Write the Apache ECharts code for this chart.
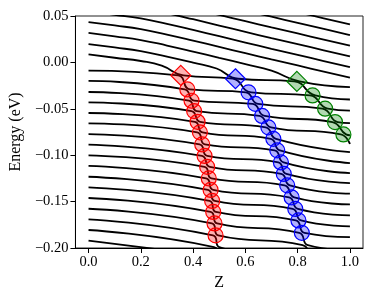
<!DOCTYPE html>
<html><head><meta charset="utf-8">
<script src="https://cdn.jsdelivr.net/npm/echarts@6/dist/echarts.min.js"></script>
<style>html,body{margin:0;padding:0;background:#fff}#c{width:374px;height:299px}</style>
</head><body><div id="c"></div><script>
// Tick labels
const xTicks = [0.0, 0.2, 0.4, 0.6, 0.8, 1.0];
const yTicks = [-0.20, -0.15, -0.10, -0.05, 0.00, 0.05];

// Marked avoided crossings (first point of each is the diamond)
const redZ = [0.353, 0.378, 0.394, 0.404, 0.417, 0.426, 0.435, 0.444, 0.454, 0.460, 0.467, 0.473, 0.477, 0.482, 0.486];
const redE = [-0.014, -0.0291, -0.0413, -0.0525, -0.064, -0.0754, -0.0884, -0.1008, -0.1126, -0.125, -0.1374, -0.1493, -0.1611, -0.1735, -0.1864];
const blueZ = [0.562, 0.612, 0.638, 0.664, 0.688, 0.707, 0.722, 0.736, 0.747, 0.760, 0.777, 0.791, 0.803, 0.816];
const blueE = [-0.0176, -0.0323, -0.0447, -0.0577, -0.0700, -0.0824, -0.0948, -0.1078, -0.1202, -0.1325, -0.1455, -0.1579, -0.1703, -0.1837];
const greenZ = [0.797, 0.857, 0.905, 0.943, 0.975];
const greenE = [-0.0205, -0.0356, -0.0499, -0.0643, -0.0776];

// Energy levels, [Z, E] points
const lvU5 = [[0,0.101],[0.2,0.0934],[0.4,0.081],[0.5,0.0742],[0.6,0.0674],[0.7,0.0607],[0.8,0.0542],[0.9,0.0475],[1,0.041]];
const lvU4 = [[0,0.0895],[0.2,0.0819],[0.4,0.0695],[0.5,0.0627],[0.6,0.0559],[0.7,0.0492],[0.8,0.0427],[0.9,0.036],[1,0.0295]];
const lvU3 = [[0,0.078],[0.1,0.0743],[0.2,0.0704],[0.3,0.0645],[0.4,0.058],[0.5,0.0512],[0.6,0.0444],[0.7,0.0377],[0.8,0.0312],[0.9,0.0245],[1,0.018]];
const lvU2 = [[0,0.0665],[0.1,0.0628],[0.2,0.0589],[0.3,0.053],[0.4,0.0465],[0.5,0.0397],[0.6,0.0329],[0.7,0.0262],[0.8,0.0197],[0.9,0.013],[1,0.0065]];
const lvU1 = [[0,0.055],[0.1,0.0513],[0.2,0.0474],[0.3,0.0415],[0.4,0.035],[0.5,0.0282],[0.6,0.0214],[0.7,0.0147],[0.8,0.0082],[0.9,0.0015],[1,-0.005]];
const lvL1 = [[0,0.0435],[0.1,0.0398],[0.2,0.0359],[0.3,0.03],[0.4,0.0235],[0.5,0.0167],[0.6,0.0099],[0.7,0.0032],[0.8,-0.0033],[0.9,-0.01],[1,-0.0165]];
const lvL2 = [[0,0.0317],[0.1,0.028],[0.2,0.0241],[0.3,0.0182],[0.4,0.0117],[0.5,0.0049],[0.6,-0.0019],[0.7,-0.0088],[0.807,-0.0205],[1,-0.0266]];
const lvL3 = [[0,0.0198],[0.1,0.0161],[0.2,0.0122],[0.3,0.0063],[0.4,-0.0002],[0.49,-0.0066],[0.572,-0.0176],[0.787,-0.0205],[0.867,-0.0356],[1,-0.040]];
const lvL4 = [[0,0.0087],[0.1,0.005],[0.2,0.0015],[0.28,-0.0035],[0.363,-0.014],[0.552,-0.0176],[0.622,-0.0323],[0.847,-0.0356],[0.915,-0.0499],[1,-0.052]];
const lv00 = [[0,-0.0089],[0.343,-0.014],[0.388,-0.0291],[0.602,-0.0323],[0.648,-0.0447],[0.895,-0.0499],[0.953,-0.0643],[1,-0.0655]];
const lv01 = [[0,-0.020],[0.368,-0.0291],[0.404,-0.0413],[0.628,-0.0447],[0.674,-0.0577],[0.933,-0.0643],[0.985,-0.0776],[1,-0.0785]];
const lv02 = [[0,-0.0319],[0.384,-0.0413],[0.414,-0.0525],[0.654,-0.0577],[0.698,-0.0700],[0.965,-0.0776],[1.0,-0.088]];
const lv03 = [[0,-0.043],[0.394,-0.0525],[0.427,-0.064],[0.678,-0.070],[0.717,-0.0824],[1,-0.0967]];
const lv04 = [[0,-0.0545],[0.407,-0.064],[0.436,-0.0754],[0.697,-0.0824],[0.732,-0.0948],[1,-0.1085]];
const lv05 = [[0,-0.0656],[0.416,-0.0754],[0.445,-0.0884],[0.712,-0.0948],[0.746,-0.1078],[1,-0.1193]];
const lv06 = [[0,-0.0772],[0.425,-0.0884],[0.454,-0.1008],[0.726,-0.1078],[0.757,-0.1202],[1,-0.130]];
const lv07 = [[0,-0.0887],[0.434,-0.1008],[0.464,-0.1126],[0.737,-0.1202],[0.770,-0.1325],[1,-0.1415]];
const lv08 = [[0,-0.1001],[0.444,-0.1126],[0.470,-0.125],[0.750,-0.1325],[0.787,-0.1455],[1,-0.153]];
const lv09 = [[0,-0.1116],[0.450,-0.125],[0.477,-0.1374],[0.767,-0.1455],[0.801,-0.1579],[1,-0.1649]];
const lv10 = [[0,-0.1232],[0.457,-0.1374],[0.483,-0.1493],[0.781,-0.1579],[0.813,-0.1703],[1,-0.1767]];
const lv11 = [[0,-0.1346],[0.463,-0.1493],[0.487,-0.1611],[0.793,-0.1703],[0.826,-0.1837],[1,-0.1883]];
const lv12 = [[0,-0.1461],[0.467,-0.1611],[0.492,-0.1735],[0.806,-0.1837],[0.839,-0.197],[1,-0.2025]];
const lv13 = [[0,-0.1577],[0.472,-0.1735],[0.496,-0.1864],[0.819,-0.197],[0.85,-0.21]];
const lv14 = [[0,-0.1691],[0.476,-0.1864],[0.50,-0.199],[0.6,-0.203]];
const lv15 = [[0,-0.1806],[0.48,-0.199],[0.505,-0.212]];
const lv16 = [[0,-0.1921],[0.3,-0.2026]];

const levels = [lvU5, lvU4, lvU3, lvU2, lvU1, lvL1, lvL2, lvL3, lvL4, lv00, lv01, lv02, lv03, lv04, lv05,
  lv06, lv07, lv08, lv09, lv10, lv11, lv12, lv13, lv14, lv15, lv16];

const FONT = '"Liberation Serif", "DejaVu Serif", serif';

function markerSeries(zs, es, stroke, fill) {
  return {
    type: 'scatter', z: 5, silent: true,
    data: zs.map((z, i) => ({
      value: [z, es[i]],
      symbol: i === 0 ? 'diamond' : 'circle',
      symbolSize: i === 0 ? 20 : 15
    })),
    itemStyle: { color: fill, borderColor: stroke, borderWidth: 1.2, opacity: 1 }
  };
}

const series = levels.map(d => ({
  type: 'line', data: d, showSymbol: false, smooth: 0.5, silent: true, z: 2,
  clip: true, lineStyle: { color: '#000', width: 1.8 }
}));
series.push(markerSeries(redZ, redE, '#ff0000', 'rgba(255,0,0,0.3)'));
series.push(markerSeries(blueZ, blueE, '#0000ff', 'rgba(0,0,255,0.3)'));
series.push(markerSeries(greenZ, greenE, '#008000', 'rgba(0,128,0,0.3)'));

const chart = echarts.init(document.getElementById('c'), null, { renderer: 'canvas' });
chart.setOption({
  animation: false,
  backgroundColor: '#fff',
  grid: { left: 74, right: 11, top: 16, bottom: 51, show: true, borderColor: '#222', borderWidth: 1, backgroundColor: 'transparent' },
  xAxis: {
    type: 'value', min: -0.05, max: 1.05,
    name: 'Z', nameLocation: 'middle', nameGap: 20,
    nameTextStyle: { fontFamily: FONT, fontSize: 16, color: '#000' },
    axisLine: { onZero: false, lineStyle: { color: '#000', width: 1 } },
    axisTick: { show: true, length: 5, inside: false, customValues: xTicks, lineStyle: { color: '#000' } },
    axisLabel: { customValues: xTicks, margin: 7, fontFamily: FONT, fontSize: 14.5, color: '#000',
      formatter: v => v.toFixed(1) },
    splitLine: { show: false }
  },
  yAxis: {
    type: 'value', min: -0.2, max: 0.05,
    name: 'Energy (eV)', nameLocation: 'middle', nameGap: 50,
    nameTextStyle: { fontFamily: FONT, fontSize: 16, color: '#000' },
    axisLine: { show: true, onZero: false, lineStyle: { color: '#000', width: 1 } },
    axisTick: { show: true, length: 5, customValues: yTicks, lineStyle: { color: '#000' } },
    axisLabel: { customValues: yTicks, margin: 7, fontFamily: FONT, fontSize: 14.5, color: '#000',
      formatter: v => (v < -1e-9 ? '\u2212' : '') + Math.abs(v).toFixed(2) },
    splitLine: { show: false }
  },
  series: series
});
</script></body></html>
